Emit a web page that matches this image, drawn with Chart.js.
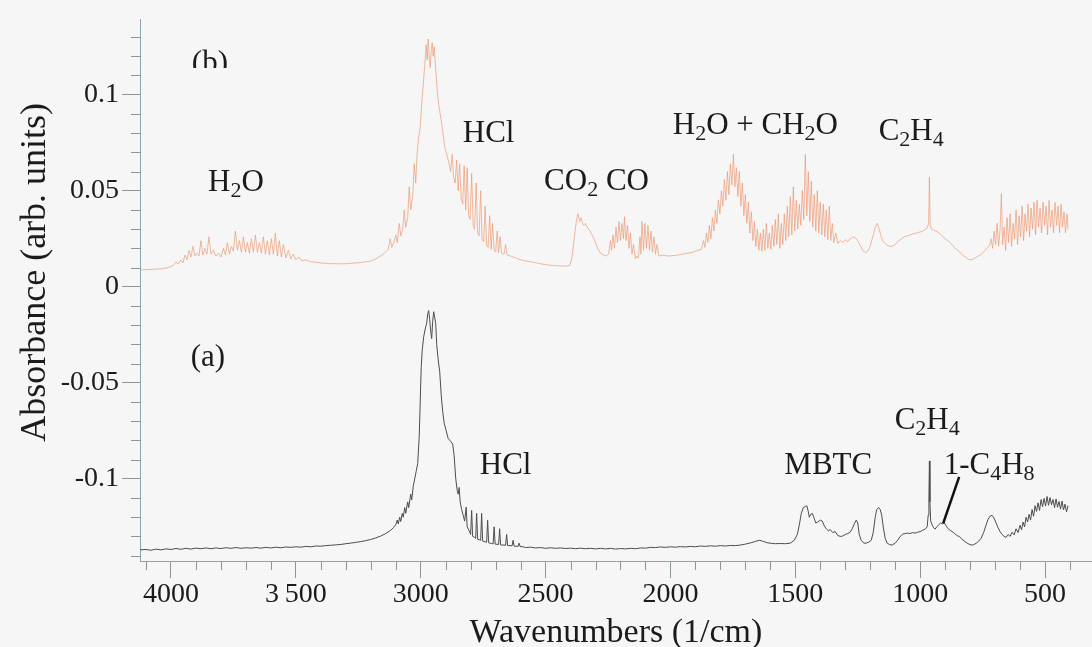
<!DOCTYPE html>
<html>
<head>
<meta charset="utf-8">
<script src="https://cdn.jsdelivr.net/npm/chart.js@4.4.1/dist/chart.umd.min.js"></script>
<style>
  html, body { margin: 0; padding: 0; background: #f6f6f6; }
  canvas { display: block; }
</style>
</head>
<body>
<canvas id="c" width="1092" height="647"></canvas>
<script>
// axis ticks
const xMajor = [4000, 3500, 3000, 2500, 2000, 1500, 1000, 500];
const xLabels = ["4000", "3\u2009500", "3000", "2500", "2000", "1500", "1000", "500"];
const xMinor = [4100, 3900, 3800, 3700, 3600, 3400, 3300, 3200, 3100, 2900, 2800, 2700, 2600,
  2400, 2300, 2200, 2100, 1900, 1800, 1700, 1600, 1400, 1300, 1200, 1100, 900, 800, 700, 600, 400];
const yMajor = [0.1, 0.05, 0, -0.05, -0.1];
const yLabels = ["0.1", "0.05", "0", "-0.05", "-0.1"];
const yMinor = [0.13, 0.12, 0.11, 0.09, 0.08, 0.07, 0.06, 0.04, 0.03, 0.02, 0.01,
  -0.01, -0.02, -0.03, -0.04, -0.06, -0.07, -0.08, -0.09, -0.11, -0.12, -0.13, -0.14];

// spectrum (b): [wavenumber, absorbance]
const spectrumB = [
  [4124,0.0088],[4080,0.0090],[4040,0.0093],[4010,0.0100],[3990,0.0112],[3980,0.0130],[3972,0.0118],
  [3960,0.0140],[3952,0.0125],[3944,0.0165],[3936,0.0140],[3928,0.0190],[3920,0.0155],[3912,0.0210],
  [3904,0.0160],[3896,0.0175],[3888,0.0160],[3880,0.0240],[3872,0.0165],[3864,0.0200],[3856,0.0170],
  [3848,0.0260],[3840,0.0170],[3830,0.0190],[3820,0.0160],[3810,0.0175],[3800,0.0155],[3790,0.0200],
  [3782,0.0165],[3774,0.0230],[3766,0.0170],[3758,0.0210],[3750,0.0185],[3742,0.0290],[3734,0.0190],
  [3726,0.0240],[3718,0.0180],[3710,0.0260],[3702,0.0180],[3694,0.0230],[3686,0.0175],[3678,0.0250],
  [3670,0.0180],[3662,0.0270],[3654,0.0180],[3646,0.0230],[3638,0.0175],[3630,0.0260],[3622,0.0170],
  [3614,0.0240],[3606,0.0165],[3598,0.0250],[3590,0.0170],[3582,0.0280],[3574,0.0160],[3566,0.0240],
  [3558,0.0155],[3550,0.0220],[3540,0.0150],[3530,0.0190],[3520,0.0145],[3510,0.0170],[3500,0.0140],
  [3488,0.0155],[3476,0.0135],[3460,0.0140],[3440,0.0130],[3420,0.0128],[3400,0.0124],[3380,0.0122],
  [3360,0.0120],[3340,0.0120],[3320,0.0119],[3300,0.0120],[3280,0.0122],[3260,0.0124],[3240,0.0126],
  [3220,0.0130],[3200,0.0134],[3180,0.0145],[3160,0.0160],[3145,0.0175],[3130,0.0195],[3122,0.0250],
  [3116,0.0205],[3108,0.0230],[3100,0.0270],[3094,0.0230],[3086,0.0330],[3080,0.0265],[3072,0.0300],
  [3066,0.0400],[3060,0.0310],[3052,0.0360],[3046,0.0520],[3040,0.0400],[3032,0.0470],[3026,0.0640],
  [3020,0.0540],[3014,0.0700],[3008,0.0780],[3002,0.0830],[2996,0.0950],[2990,0.1050],[2984,0.1150],
  [2978,0.1260],[2974,0.1180],[2970,0.1290],[2966,0.1200],[2962,0.1140],[2958,0.1230],[2954,0.1270],
  [2950,0.1200],[2946,0.1250],[2942,0.1170],[2938,0.1100],[2934,0.1020],[2928,0.0950],[2922,0.0900],
  [2916,0.0850],[2910,0.0790],[2904,0.0730],[2898,0.0700],[2892,0.0670],[2886,0.0640],[2880,0.0600],
  [2874,0.0690],[2868,0.0570],[2862,0.0540],[2856,0.0660],[2850,0.0500],[2844,0.0640],[2838,0.0460],
  [2832,0.0430],[2826,0.0630],[2820,0.0400],[2814,0.0620],[2808,0.0370],[2802,0.0350],[2796,0.0590],
  [2790,0.0320],[2784,0.0300],[2778,0.0540],[2772,0.0280],[2766,0.0265],[2760,0.0500],[2754,0.0245],
  [2748,0.0235],[2742,0.0420],[2736,0.0215],[2730,0.0205],[2724,0.0370],[2718,0.0195],[2712,0.0330],
  [2706,0.0188],[2700,0.0182],[2694,0.0290],[2688,0.0178],[2682,0.0260],[2676,0.0174],[2666,0.0170],
  [2660,0.0220],[2654,0.0166],[2640,0.0160],[2620,0.0150],[2600,0.0140],[2580,0.0135],[2560,0.0130],
  [2540,0.0125],[2520,0.0120],[2500,0.0115],[2480,0.0112],[2460,0.0110],[2440,0.0108],[2420,0.0108],
  [2404,0.0110],[2396,0.0140],[2388,0.0220],[2382,0.0290],[2376,0.0350],[2370,0.0380],[2364,0.0340],
  [2358,0.0360],[2352,0.0330],[2346,0.0320],[2340,0.0330],[2334,0.0310],[2326,0.0300],[2318,0.0280],
  [2310,0.0260],[2300,0.0230],[2290,0.0195],[2280,0.0175],[2268,0.0165],[2258,0.0160],[2248,0.0170],
  [2240,0.0240],[2236,0.0190],[2230,0.0270],[2224,0.0200],[2218,0.0310],[2212,0.0230],[2206,0.0340],
  [2200,0.0240],[2194,0.0330],[2188,0.0250],[2184,0.0365],[2178,0.0240],[2172,0.0320],[2166,0.0200],
  [2160,0.0280],[2154,0.0170],[2148,0.0220],[2140,0.0145],[2134,0.0160],[2128,0.0150],[2122,0.0260],
  [2118,0.0170],[2114,0.0340],[2108,0.0190],[2102,0.0330],[2096,0.0200],[2090,0.0320],[2084,0.0190],
  [2078,0.0290],[2072,0.0180],[2066,0.0260],[2060,0.0170],[2054,0.0220],[2046,0.0160],[2030,0.0165],
  [2010,0.0160],[1990,0.0162],[1970,0.0165],[1950,0.0170],[1930,0.0175],[1910,0.0180],[1890,0.0190],
  [1876,0.0195],[1868,0.0240],[1862,0.0205],[1856,0.0280],[1850,0.0230],[1844,0.0320],[1838,0.0250],
  [1832,0.0360],[1826,0.0290],[1820,0.0400],[1814,0.0330],[1808,0.0450],[1802,0.0380],[1796,0.0500],
  [1790,0.0420],[1784,0.0560],[1778,0.0450],[1772,0.0600],[1766,0.0480],[1760,0.0640],[1754,0.0530],
  [1748,0.0690],[1742,0.0520],[1736,0.0620],[1730,0.0470],[1724,0.0600],[1718,0.0420],[1712,0.0540],
  [1706,0.0370],[1700,0.0480],[1694,0.0330],[1688,0.0440],[1682,0.0280],[1676,0.0390],[1670,0.0240],
  [1664,0.0340],[1658,0.0210],[1652,0.0300],[1646,0.0190],[1640,0.0280],[1634,0.0185],[1628,0.0300],
  [1622,0.0190],[1616,0.0330],[1610,0.0200],[1604,0.0280],[1598,0.0195],[1592,0.0320],[1586,0.0210],
  [1580,0.0350],[1574,0.0220],[1568,0.0380],[1562,0.0200],[1556,0.0330],[1550,0.0220],[1544,0.0380],
  [1538,0.0240],[1532,0.0420],[1526,0.0260],[1520,0.0470],[1514,0.0270],[1508,0.0520],[1502,0.0290],
  [1496,0.0450],[1490,0.0300],[1484,0.0430],[1478,0.0320],[1472,0.0500],[1466,0.0350],[1460,0.0690],
  [1454,0.0370],[1448,0.0600],[1442,0.0340],[1436,0.0550],[1430,0.0310],[1424,0.0480],[1418,0.0290],
  [1412,0.0500],[1406,0.0280],[1400,0.0440],[1394,0.0270],[1388,0.0430],[1382,0.0260],[1376,0.0400],
  [1370,0.0245],[1364,0.0420],[1358,0.0240],[1352,0.0330],[1346,0.0230],[1338,0.0280],[1330,0.0225],
  [1320,0.0240],[1310,0.0230],[1300,0.0245],[1290,0.0235],[1280,0.0250],[1270,0.0260],[1260,0.0255],
  [1250,0.0240],[1240,0.0215],[1230,0.0190],[1220,0.0178],[1210,0.0185],[1200,0.0210],[1190,0.0260],
  [1180,0.0310],[1172,0.0330],[1164,0.0300],[1156,0.0260],[1148,0.0235],[1140,0.0225],[1130,0.0215],
  [1120,0.0210],[1110,0.0212],[1100,0.0220],[1090,0.0235],[1080,0.0245],[1070,0.0255],[1060,0.0262],
  [1050,0.0265],[1040,0.0270],[1030,0.0275],[1020,0.0278],[1010,0.0282],[1000,0.0285],[990,0.0290],
  [980,0.0298],[972,0.0305],[966,0.0330],[963,0.0570],[960,0.0320],[954,0.0300],[946,0.0295],
  [938,0.0290],[930,0.0285],[920,0.0275],[910,0.0262],[900,0.0250],[890,0.0240],[880,0.0230],
  [870,0.0215],[860,0.0200],[850,0.0190],[840,0.0180],[830,0.0165],[820,0.0155],[810,0.0145],
  [800,0.0140],[790,0.0142],[780,0.0150],[770,0.0158],[760,0.0165],[750,0.0175],[740,0.0190],
  [730,0.0205],[722,0.0215],[716,0.0250],[710,0.0200],[704,0.0290],[698,0.0220],[692,0.0330],
  [686,0.0210],[680,0.0300],[675,0.0485],[670,0.0220],[664,0.0310],[658,0.0190],[652,0.0360],
  [646,0.0230],[640,0.0380],[634,0.0210],[628,0.0330],[622,0.0250],[616,0.0400],[610,0.0220],
  [604,0.0370],[598,0.0260],[592,0.0420],[586,0.0240],[580,0.0380],[574,0.0290],[568,0.0430],
  [562,0.0260],[556,0.0410],[550,0.0300],[544,0.0440],[538,0.0270],[532,0.0450],[526,0.0310],
  [520,0.0410],[514,0.0280],[508,0.0440],[502,0.0320],[496,0.0420],[490,0.0270],[484,0.0450],
  [478,0.0310],[472,0.0400],[466,0.0280],[460,0.0440],[454,0.0320],[448,0.0420],[442,0.0280],
  [436,0.0430],[430,0.0310],[424,0.0390],[418,0.0280],[412,0.0380],[408,0.0300]
];

// spectrum (a): [wavenumber, absorbance]
const spectrumA = [
  [4124,-0.1370],[4100,-0.1368],[4080,-0.1372],[4060,-0.1366],[4040,-0.1370],[4020,-0.1365],
  [4000,-0.1368],[3980,-0.1363],[3960,-0.1367],[3940,-0.1362],[3920,-0.1366],[3900,-0.1361],
  [3880,-0.1364],[3860,-0.1360],[3840,-0.1364],[3820,-0.1360],[3800,-0.1363],[3780,-0.1359],
  [3760,-0.1362],[3740,-0.1358],[3720,-0.1362],[3700,-0.1359],[3680,-0.1361],[3660,-0.1358],
  [3640,-0.1361],[3620,-0.1357],[3600,-0.1360],[3580,-0.1356],[3560,-0.1359],[3540,-0.1355],
  [3520,-0.1357],[3500,-0.1354],[3480,-0.1356],[3460,-0.1352],[3440,-0.1354],[3420,-0.1350],
  [3400,-0.1351],[3380,-0.1348],[3360,-0.1346],[3340,-0.1344],[3320,-0.1342],[3300,-0.1338],
  [3280,-0.1335],[3260,-0.1331],[3240,-0.1327],[3220,-0.1322],[3200,-0.1316],[3180,-0.1308],
  [3160,-0.1298],[3140,-0.1285],[3120,-0.1268],[3110,-0.1255],[3100,-0.1240],[3094,-0.1215],
  [3090,-0.1235],[3084,-0.1200],[3080,-0.1222],[3074,-0.1180],[3070,-0.1200],[3064,-0.1150],
  [3060,-0.1180],[3052,-0.1120],[3048,-0.1150],[3040,-0.1080],[3036,-0.1110],[3030,-0.1040],
  [3024,-0.1000],[3018,-0.0960],[3012,-0.0920],[3006,-0.0780],[3002,-0.0600],[2998,-0.0420],
  [2994,-0.0330],[2988,-0.0260],[2982,-0.0220],[2976,-0.0190],[2972,-0.0140],[2968,-0.0124],
  [2964,-0.0170],[2960,-0.0230],[2956,-0.0270],[2952,-0.0180],[2948,-0.0130],[2944,-0.0160],
  [2940,-0.0190],[2936,-0.0300],[2930,-0.0380],[2924,-0.0440],[2918,-0.0560],[2912,-0.0650],
  [2906,-0.0710],[2898,-0.0750],[2890,-0.0790],[2880,-0.0805],[2872,-0.0820],[2866,-0.0880],
  [2860,-0.0995],[2854,-0.1060],[2850,-0.1080],[2846,-0.1045],[2842,-0.1120],[2836,-0.1160],
  [2830,-0.1190],[2824,-0.1220],[2818,-0.1148],[2814,-0.1250],[2806,-0.1270],[2800,-0.1290],
  [2796,-0.1165],[2792,-0.1300],[2784,-0.1305],[2780,-0.1310],[2776,-0.1180],[2772,-0.1315],
  [2764,-0.1318],[2760,-0.1320],[2756,-0.1180],[2752,-0.1324],[2742,-0.1328],[2736,-0.1330],
  [2732,-0.1216],[2728,-0.1333],[2716,-0.1337],[2710,-0.1339],[2706,-0.1250],[2702,-0.1340],
  [2688,-0.1342],[2684,-0.1260],[2680,-0.1344],[2660,-0.1346],[2656,-0.1290],[2652,-0.1347],
  [2634,-0.1349],[2630,-0.1320],[2626,-0.1350],[2610,-0.1352],[2606,-0.1335],[2602,-0.1353],
  [2590,-0.1354],[2580,-0.1358],[2560,-0.1356],[2540,-0.1360],[2520,-0.1358],[2500,-0.1362],
  [2480,-0.1359],[2460,-0.1362],[2440,-0.1360],[2420,-0.1363],[2400,-0.1361],[2380,-0.1364],
  [2360,-0.1361],[2340,-0.1364],[2320,-0.1362],[2300,-0.1365],[2280,-0.1362],[2260,-0.1365],
  [2240,-0.1362],[2220,-0.1366],[2200,-0.1363],[2180,-0.1365],[2160,-0.1362],[2140,-0.1364],
  [2120,-0.1360],[2100,-0.1361],[2080,-0.1357],[2060,-0.1358],[2040,-0.1355],[2020,-0.1357],
  [2000,-0.1354],[1980,-0.1356],[1960,-0.1353],[1940,-0.1355],[1920,-0.1352],[1900,-0.1354],
  [1880,-0.1350],[1860,-0.1352],[1840,-0.1349],[1820,-0.1351],[1800,-0.1348],[1780,-0.1350],
  [1760,-0.1347],[1740,-0.1348],[1720,-0.1345],[1700,-0.1340],[1680,-0.1334],[1660,-0.1326],
  [1644,-0.1320],[1628,-0.1326],[1612,-0.1333],[1596,-0.1336],[1580,-0.1338],[1560,-0.1337],
  [1540,-0.1338],[1520,-0.1335],[1504,-0.1320],[1492,-0.1290],[1484,-0.1240],[1476,-0.1180],
  [1468,-0.1150],[1460,-0.1145],[1454,-0.1140],[1448,-0.1170],[1444,-0.1200],[1438,-0.1185],
  [1432,-0.1180],[1426,-0.1200],[1418,-0.1230],[1410,-0.1225],[1400,-0.1215],[1392,-0.1220],
  [1384,-0.1245],[1376,-0.1260],[1368,-0.1270],[1360,-0.1265],[1350,-0.1280],[1340,-0.1275],
  [1330,-0.1295],[1320,-0.1300],[1310,-0.1298],[1300,-0.1290],[1290,-0.1285],[1280,-0.1278],
  [1272,-0.1260],[1264,-0.1235],[1256,-0.1215],[1250,-0.1230],[1244,-0.1290],[1236,-0.1320],
  [1226,-0.1335],[1216,-0.1335],[1206,-0.1330],[1196,-0.1320],[1188,-0.1280],[1180,-0.1200],
  [1174,-0.1160],[1166,-0.1150],[1160,-0.1160],[1154,-0.1190],[1148,-0.1250],[1140,-0.1310],
  [1132,-0.1335],[1122,-0.1343],[1112,-0.1345],[1100,-0.1335],[1090,-0.1320],[1080,-0.1300],
  [1070,-0.1288],[1060,-0.1285],[1050,-0.1283],[1040,-0.1285],[1030,-0.1280],[1020,-0.1283],
  [1010,-0.1278],[1000,-0.1275],[990,-0.1268],[980,-0.1262],[972,-0.1250],[968,-0.1190],
  [965,-0.1100],[963,-0.0907],[961,-0.1120],[958,-0.1220],[952,-0.1240],[946,-0.1255],
  [940,-0.1262],[934,-0.1250],[926,-0.1240],[918,-0.1230],[910,-0.1235],[904,-0.1228],
  [896,-0.1245],[888,-0.1260],[880,-0.1268],[872,-0.1275],[862,-0.1285],[852,-0.1296],
  [844,-0.1300],[832,-0.1315],[820,-0.1328],[808,-0.1338],[796,-0.1345],[786,-0.1343],
  [776,-0.1336],[766,-0.1325],[756,-0.1310],[746,-0.1280],[736,-0.1240],[728,-0.1210],
  [720,-0.1195],[712,-0.1190],[704,-0.1205],[696,-0.1230],[688,-0.1255],[680,-0.1275],
  [672,-0.1290],[664,-0.1300],[656,-0.1305],[648,-0.1290],[640,-0.1300],[632,-0.1278],
  [624,-0.1292],[616,-0.1260],[608,-0.1280],[600,-0.1242],[594,-0.1265],[588,-0.1225],
  [582,-0.1250],[576,-0.1200],[570,-0.1225],[564,-0.1185],[558,-0.1215],[552,-0.1160],
  [546,-0.1195],[540,-0.1140],[534,-0.1170],[528,-0.1125],[522,-0.1165],[516,-0.1108],
  [510,-0.1145],[504,-0.1102],[498,-0.1142],[492,-0.1092],[486,-0.1138],[480,-0.1098],
  [474,-0.1135],[468,-0.1108],[462,-0.1150],[456,-0.1105],[450,-0.1148],[444,-0.1118],
  [438,-0.1158],[432,-0.1116],[426,-0.1162],[420,-0.1132],[414,-0.1172],[408,-0.1140]
];

// band labels, "_n" = subscript; anchored at text centre / baseline
const bandLabels = [
  { text: "(b)", wn: 3844, abs: 0.1119, cutBelow: 0.1139 },
  { text: "H_2O", wn: 3740, abs: 0.0500 },
  { text: "HCl", wn: 2728, abs: 0.0753 },
  { text: "CO_2 CO", wn: 2296, abs: 0.0505 },
  { text: "H_2O + CH_2O", wn: 1660, abs: 0.0794 },
  { text: "C_2H_4", wn: 1036, abs: 0.0763 },
  { text: "(a)", wn: 3852, abs: -0.0412 },
  { text: "HCl", wn: 2660, abs: -0.0974 },
  { text: "MBTC", wn: 1368, abs: -0.0974 },
  { text: "C_2H_4", wn: 972, abs: -0.0742 },
  { text: "1-C_4H_8", wn: 724, abs: -0.0974 }
];
const leader = { from: [844, -0.0990], to: [908, -0.1232] };
const yTitle = { text: "Absorbance (arb. units)", abs: 0.0075 };

const serif = "'Liberation Serif', 'Times New Roman', serif";
const textColor = "#1b1b1b";
const axisColor = "#86a9b0";
const tickColor = "#8c9699";

function drawRich(ctx, text, cx, base, size) {
  const parts = text.split(/(_\d)/).filter(p => p.length);
  const subSize = Math.round(size * 0.7);
  const pieces = parts.map(p => p[0] === "_"
    ? { s: p.slice(1), f: subSize + "px " + serif, dy: size * 0.2 }
    : { s: p, f: size + "px " + serif, dy: 0 });
  let total = 0;
  pieces.forEach(p => { ctx.font = p.f; p.w = ctx.measureText(p.s).width; total += p.w; });
  let x = cx - total / 2;
  pieces.forEach(p => { ctx.font = p.f; ctx.fillText(p.s, x, base + p.dy); x += p.w; });
}

const extras = {
  id: "extras",
  afterDraw(chart) {
    const { ctx, scales: { x, y } } = chart;
    ctx.save();
    ctx.strokeStyle = tickColor;
    ctx.lineWidth = 1;
    ctx.beginPath();
    xMinor.forEach(v => {
      const px = Math.round(x.getPixelForValue(v)) + 0.5;
      ctx.moveTo(px, y.bottom);
      ctx.lineTo(px, y.bottom + 9);
    });
    yMinor.forEach(v => {
      const py = Math.round(y.getPixelForValue(v)) + 0.5;
      ctx.moveTo(x.left, py);
      ctx.lineTo(x.left - 9, py);
    });
    ctx.stroke();

    ctx.fillStyle = textColor;
    ctx.textAlign = "left";
    ctx.textBaseline = "alphabetic";
    bandLabels.forEach(l => {
      ctx.save();
      if (l.cutBelow !== undefined) {
        ctx.beginPath();
        ctx.rect(0, 0, chart.width, y.getPixelForValue(l.cutBelow));
        ctx.clip();
      }
      drawRich(ctx, l.text, x.getPixelForValue(l.wn), y.getPixelForValue(l.abs), 31);
      ctx.restore();
    });

    ctx.strokeStyle = "#111";
    ctx.lineWidth = 2.5;
    ctx.beginPath();
    ctx.moveTo(x.getPixelForValue(leader.from[0]), y.getPixelForValue(leader.from[1]));
    ctx.lineTo(x.getPixelForValue(leader.to[0]), y.getPixelForValue(leader.to[1]));
    ctx.stroke();

    // y-axis title
    ctx.translate(36, y.getPixelForValue(yTitle.abs));
    ctx.rotate(-Math.PI / 2);
    ctx.font = "36px " + serif;
    ctx.textAlign = "center";
    ctx.textBaseline = "middle";
    ctx.fillText(yTitle.text, 0, 0);
    ctx.restore();
  }
};

const toPoints = arr => arr.map(([wn, a]) => ({ x: wn, y: a }));

new Chart(document.getElementById("c"), {
  type: "line",
  data: {
    datasets: [
      {
        label: "(b)",
        data: toPoints(spectrumB),
        borderColor: "rgba(236,150,112,0.75)",
        borderWidth: 0.9,
        pointRadius: 0,
        tension: 0
      },
      {
        label: "(a)",
        data: toPoints(spectrumA),
        borderColor: "#4d4d4d",
        borderWidth: 1,
        pointRadius: 0,
        tension: 0
      }
    ]
  },
  options: {
    responsive: false,
    animation: false,
    layout: { padding: { top: 15, right: 0, left: 0, bottom: 0 } },
    plugins: { legend: { display: false }, tooltip: { enabled: false } },
    scales: {
      x: {
        type: "linear",
        reverse: true,
        bounds: "data",
        min: 312,
        max: 4124,
        afterBuildTicks: s => { s.ticks = xMajor.map(v => ({ value: v })); },
        afterFit: s => { s.height = 86; },
        ticks: {
          callback: v => xLabels[xMajor.indexOf(v)],
          font: { family: serif, size: 28 },
          color: textColor,
          padding: 0,
          maxRotation: 0,
          autoSkip: false
        },
        grid: { drawOnChartArea: false, drawTicks: true, tickLength: 17, color: tickColor },
        border: { display: true, color: axisColor, width: 1 },
        title: {
          display: true,
          text: "Wavenumbers (1/cm)",
          font: { family: serif, size: 34, lineHeight: 0.8 },
          color: textColor,
          padding: { top: 0, bottom: 0 }
        }
      },
      y: {
        bounds: "data",
        min: -0.1428,
        max: 0.139,
        afterBuildTicks: s => { s.ticks = yMajor.map(v => ({ value: v })); },
        afterFit: s => { s.width = 140; },
        ticks: {
          callback: v => yLabels[yMajor.indexOf(v)],
          font: { family: serif, size: 28 },
          color: textColor,
          padding: 3
        },
        grid: { drawOnChartArea: false, drawTicks: true, tickLength: 18, color: tickColor },
        border: { display: true, color: axisColor, width: 1 },
        title: { display: false }
      }
    }
  },
  plugins: [extras]
});
</script>
</body>
</html>
